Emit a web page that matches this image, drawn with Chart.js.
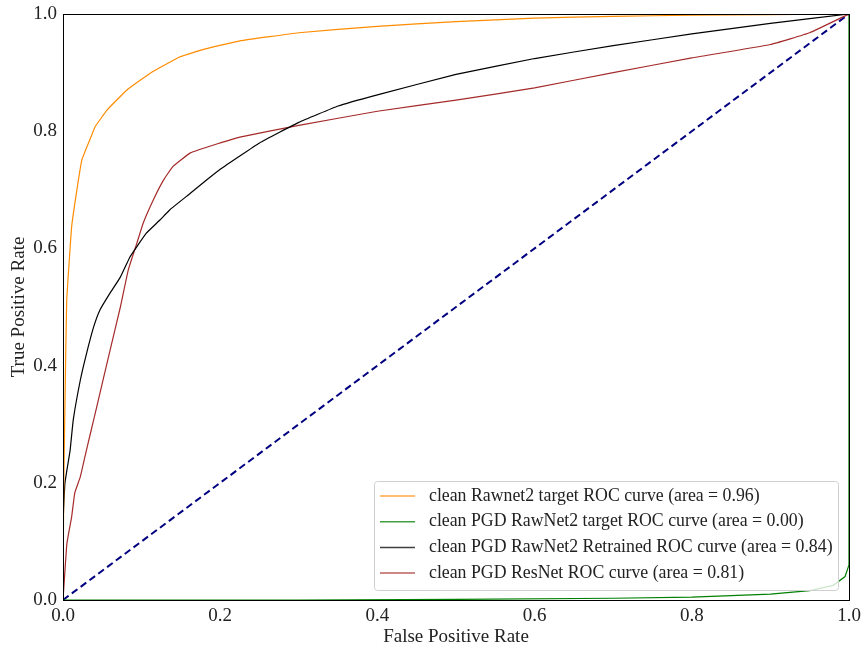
<!DOCTYPE html>
<html>
<head>
<meta charset="utf-8">
<script src="https://cdn.jsdelivr.net/npm/chart.js@4.4.1/dist/chart.umd.min.js"></script>
<style>
  html, body { margin: 0; padding: 0; background: #fff; }
  #wrap { width: 862px; height: 648px; }
</style>
</head>
<body>
<div id="wrap"><canvas id="rocChart" width="862" height="648"></canvas></div>
<script>
// Datos
const labels = [
    'clean Rawnet2 target ROC curve (area = 0.96)',
    'clean PGD RawNet2 target ROC curve (area = 0.00)',
    'clean PGD RawNet2 Retrained ROC curve (area = 0.84)',
    'clean PGD ResNet ROC curve (area = 0.81)'
];
const ticks = [0.0, 0.2, 0.4, 0.6, 0.8, 1.0];

const fprTarget = [0, 0.001, 0.003, 0.0047, 0.008, 0.011, 0.017, 0.024, 0.034, 0.041, 0.056, 0.081, 0.111, 0.149, 0.18, 0.225, 0.3, 0.4, 0.5, 0.6, 0.7, 0.8, 1.0];
const tprTarget = [0, 0.2, 0.38, 0.512, 0.58, 0.637, 0.694, 0.751, 0.785, 0.808, 0.836, 0.87, 0.899, 0.927, 0.94, 0.954, 0.968, 0.979, 0.987, 0.993, 0.996, 0.998, 1.0];

const fprPgd = [0, 0.3, 0.5, 0.7, 0.8, 0.9, 0.95, 0.98, 0.995, 1.0, 1.0];
const tprPgd = [0, 0.0, 0.001, 0.003, 0.005, 0.01, 0.016, 0.025, 0.04, 0.06, 1.0];

const fprRetrained = [0, 0.0004, 0.0025, 0.009, 0.013, 0.022, 0.03, 0.039, 0.047, 0.06, 0.073, 0.085, 0.094, 0.106, 0.123, 0.136, 0.162, 0.183, 0.2, 0.25, 0.3, 0.35, 0.4, 0.5, 0.6, 0.7, 0.8, 0.9, 1.0];
const tprRetrained = [0, 0.142, 0.2, 0.255, 0.307, 0.375, 0.421, 0.466, 0.495, 0.524, 0.551, 0.585, 0.603, 0.626, 0.648, 0.666, 0.694, 0.717, 0.735, 0.78, 0.815, 0.843, 0.862, 0.897, 0.924, 0.946, 0.966, 0.984, 1.0];

const fprResnet = [0, 0.005, 0.011, 0.015, 0.022, 0.028, 0.035, 0.043, 0.06, 0.073, 0.083, 0.094, 0.102, 0.115, 0.128, 0.14, 0.162, 0.2, 0.225, 0.3, 0.4, 0.5, 0.6, 0.7, 0.8, 0.9, 0.95, 1.0];
const tprResnet = [0, 0.097, 0.142, 0.183, 0.21, 0.245, 0.285, 0.33, 0.427, 0.5, 0.563, 0.609, 0.643, 0.683, 0.717, 0.74, 0.763, 0.78, 0.79, 0.81, 0.834, 0.853, 0.874, 0.9, 0.925, 0.948, 0.968, 1.0];

const fprChance = [0, 1];
const tprChance = [0, 1];

const colores = ['#ff8c00', '#008000', '#000000', '#a52a2a'];

function puntos(xs, ys) {
    return xs.map(function(x, i) { return { x: x, y: ys[i] }; });
}

const serif = '"Liberation Serif", "DejaVu Serif", serif';

// Leyenda dentro del área del gráfico
const leyendaPlugin = {
    id: 'leyendaInterna',
    afterDraw: function(chart) {
        const ctx = chart.ctx;
        const area = chart.chartArea;
        ctx.save();
        // marco de la gráfica
        ctx.strokeStyle = '#000';
        ctx.lineWidth = 1;
        ctx.strokeRect(area.left + 0.5, area.top + 0.5, area.right - area.left, area.bottom - area.top);

        const x0 = 374, y0 = 481, w = 464, h = 109;
        ctx.fillStyle = 'rgba(255,255,255,0.8)';
        ctx.strokeStyle = '#d0d0d0';
        ctx.beginPath();
        ctx.roundRect(x0 + 0.5, y0 + 0.5, w, h, 3);
        ctx.fill();
        ctx.stroke();

        ctx.font = '17.8px ' + serif;
        ctx.textBaseline = 'middle';
        for (let i = 0; i < labels.length; i++) {
            const yy = y0 + 15 + i * 25.7;
            ctx.strokeStyle = colores[i];
            ctx.globalAlpha = 0.75;
            ctx.lineWidth = 1.5;
            ctx.beginPath();
            ctx.moveTo(380, yy);
            ctx.lineTo(415, yy);
            ctx.stroke();
            ctx.globalAlpha = 1;
            ctx.fillStyle = '#222';
            ctx.fillText(labels[i], 429, yy);
        }
        ctx.restore();
    }
};

const ctx = document.getElementById('rocChart').getContext('2d');
const chart = new Chart(ctx, {
    type: 'scatter',
    data: {
        datasets: [
            { label: labels[0], data: puntos(fprTarget, tprTarget), borderColor: colores[0], borderWidth: 1.2, showLine: true, pointRadius: 0, tension: 0.1 },
            { label: labels[1], data: puntos(fprPgd, tprPgd), borderColor: colores[1], borderWidth: 1.2, showLine: true, pointRadius: 0 },
            { label: labels[2], data: puntos(fprRetrained, tprRetrained), borderColor: colores[2], borderWidth: 1.2, showLine: true, pointRadius: 0, tension: 0.1 },
            { label: labels[3], data: puntos(fprResnet, tprResnet), borderColor: colores[3], borderWidth: 1.2, showLine: true, pointRadius: 0, tension: 0.1 },
            { label: 'chance', data: puntos(fprChance, tprChance), borderColor: '#000080', borderWidth: 2, borderDash: [7, 4], showLine: true, pointRadius: 0 }
        ]
    },
    options: {
        responsive: false,
        animation: false,
        layout: { padding: { top: 14, right: 13, left: 0, bottom: 0 } },
        plugins: {
            legend: { display: false },
            tooltip: { enabled: false }
        },
        scales: {
            x: {
                type: 'linear',
                min: 0,
                max: 1,
                afterFit: function(scale) { scale.height = 48; },
                afterBuildTicks: function(scale) { scale.ticks = ticks.map(function(v) { return { value: v }; }); },
                grid: { display: false, drawTicks: true, tickLength: 4, tickColor: '#000' },
                border: { display: false },
                ticks: {
                    color: '#222',
                    padding: 1,
                    font: { family: serif, size: 19 },
                    callback: function(value) { return value.toFixed(1); }
                },
                title: { display: true, text: 'False Positive Rate', color: '#222', padding: { top: 0, bottom: 0 }, font: { family: serif, size: 19 } }
            },
            y: {
                type: 'linear',
                min: 0,
                max: 1,
                afterFit: function(scale) { scale.width = 63; },
                afterBuildTicks: function(scale) { scale.ticks = ticks.map(function(v) { return { value: v }; }); },
                grid: { display: false, drawTicks: true, tickLength: 4, tickColor: '#000' },
                border: { display: false },
                ticks: {
                    color: '#222',
                    padding: 2,
                    font: { family: serif, size: 19 },
                    callback: function(value) { return value.toFixed(1); }
                },
                title: { display: true, text: 'True Positive Rate', color: '#222', padding: { top: 8, bottom: 0 }, font: { family: serif, size: 19 } }
            }
        }
    },
    plugins: [leyendaPlugin]
});
</script>
</body>
</html>
